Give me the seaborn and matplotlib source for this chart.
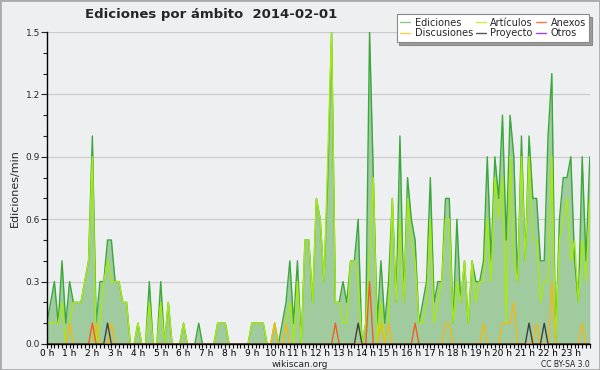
import numpy as np
import pandas as pd
import matplotlib
matplotlib.use("Agg")
import matplotlib.pyplot as plt
import seaborn as sns
from matplotlib.lines import Line2D
from matplotlib.ticker import MultipleLocator, FixedLocator

# Ediciones por minuto, un valor cada 10 minutos (6 por hora)
ediciones = [
    0.1, 0.2, 0.3, 0.1, 0.4, 0.1,   # 0 h
    0.3, 0.2, 0.2, 0.2, 0.3, 0.4,   # 1 h
    1.0, 0.1, 0.3, 0.3, 0.5, 0.5,   # 2 h
    0.3, 0.3, 0.2, 0.2, 0.0, 0.0,   # 3 h
    0.1, 0.0, 0.0, 0.3, 0.0, 0.0,   # 4 h
    0.3, 0.0, 0.2, 0.0, 0.0, 0.0,   # 5 h
    0.1, 0.0, 0.0, 0.0, 0.1, 0.0,   # 6 h
    0.0, 0.0, 0.0, 0.1, 0.1, 0.1,   # 7 h
    0.0, 0.0, 0.0, 0.0, 0.0, 0.0,   # 8 h
    0.1, 0.1, 0.1, 0.1, 0.0, 0.0,   # 9 h
    0.1, 0.0, 0.1, 0.2, 0.4, 0.1,   # 10 h
    0.4, 0.0, 0.5, 0.5, 0.2, 0.7,   # 11 h
    0.6, 0.3, 0.8, 1.5, 0.2, 0.2,   # 12 h
    0.3, 0.2, 0.4, 0.4, 0.6, 0.0,   # 13 h
    0.1, 1.5, 0.8, 0.1, 0.4, 0.1,   # 14 h
    0.3, 0.7, 0.2, 1.0, 0.2, 0.8,   # 15 h
    0.6, 0.5, 0.1, 0.2, 0.3, 0.8,   # 16 h
    0.2, 0.3, 0.3, 0.7, 0.7, 0.1,   # 17 h
    0.6, 0.2, 0.4, 0.1, 0.4, 0.3,   # 18 h
    0.3, 0.4, 0.9, 0.4, 0.9, 0.7,   # 19 h
    1.1, 0.5, 1.1, 0.9, 0.3, 1.0,   # 20 h
    0.4, 1.0, 0.7, 0.7, 0.4, 0.4,   # 21 h
    1.0, 1.3, 0.0, 0.6, 0.8, 0.8,   # 22 h
    0.9, 0.4, 0.2, 0.9, 0.4, 0.9,   # 23 h
]
articulos = [
    0.1, 0.1, 0.1, 0.1, 0.2, 0.0,
    0.1, 0.2, 0.2, 0.2, 0.3, 0.4,
    0.9, 0.0, 0.1, 0.3, 0.4, 0.3,
    0.3, 0.3, 0.2, 0.2, 0.0, 0.0,
    0.1, 0.0, 0.0, 0.2, 0.0, 0.0,
    0.2, 0.0, 0.2, 0.0, 0.0, 0.0,
    0.1, 0.0, 0.0, 0.0, 0.0, 0.0,
    0.0, 0.0, 0.0, 0.1, 0.1, 0.1,
    0.0, 0.0, 0.0, 0.0, 0.0, 0.0,
    0.1, 0.1, 0.1, 0.1, 0.0, 0.0,
    0.1, 0.0, 0.0, 0.1, 0.2, 0.0,
    0.3, 0.0, 0.5, 0.5, 0.2, 0.7,
    0.6, 0.3, 0.9, 1.5, 0.2, 0.2,
    0.1, 0.1, 0.4, 0.4, 0.3, 0.0,
    0.1, 0.4, 0.8, 0.0, 0.2, 0.0,
    0.1, 0.7, 0.2, 0.6, 0.2, 0.7,
    0.5, 0.4, 0.1, 0.1, 0.2, 0.6,
    0.1, 0.2, 0.3, 0.6, 0.6, 0.1,
    0.3, 0.2, 0.4, 0.1, 0.4, 0.2,
    0.3, 0.3, 0.6, 0.3, 0.8, 0.6,
    0.8, 0.1, 0.9, 0.4, 0.3, 0.9,
    0.4, 0.9, 0.5, 0.5, 0.2, 0.3,
    0.3, 0.9, 0.0, 0.5, 0.6, 0.7,
    0.4, 0.5, 0.2, 0.5, 0.3, 0.7,
]
# series pequeñas: {índice de 10 min: valor}
discusiones_pts = {6: 0.1, 13: 0.1, 17: 0.1, 60: 0.1, 63: 0.1, 88: 0.1, 90: 0.1,
                   105: 0.1, 106: 0.1, 115: 0.1, 120: 0.1, 121: 0.1, 122: 0.1,
                   123: 0.2, 129: 0.1, 133: 0.3, 141: 0.1}
anexos_pts = {12: 0.1, 76: 0.1, 85: 0.3, 97: 0.1}
proyecto_pts = {16: 0.1, 82: 0.1, 127: 0.1, 131: 0.1}

hour_labels = [f"{h} h" for h in range(24)]

n = len(ediciones)
horas = np.arange(n) / 6.0


def expand(pts):
    s = np.zeros(n)
    for k, v in pts.items():
        s[k] = v
    return s


df = pd.DataFrame({
    "hora": horas,
    "Ediciones": ediciones,
    "Artículos": articulos,
    "Discusiones": expand(discusiones_pts),
    "Anexos": expand(anexos_pts),
    "Proyecto": expand(proyecto_pts),
    "Otros": np.zeros(n),
})

sns.set_style("white")
plt.rcParams["font.family"] = ["DejaVu Sans"]

bg = "#eeeff0"
fig = plt.figure(figsize=(6.0, 3.7), dpi=100, facecolor=bg)
ax = fig.add_axes([0.078, 0.0703, 0.905, 0.8432])
ax.set_facecolor(bg)

ax.fill_between(df["hora"], df["Ediciones"], 0, color="#9fcb9f", lw=0, zorder=1)
line_colors = {
    "Ediciones": "#3aa83a",
    "Artículos": "#a6ea10",
    "Discusiones": "#f2b818",
    "Anexos": "#f0601c",
    "Proyecto": "#404040",
}
for col, c in line_colors.items():
    sns.lineplot(data=df, x="hora", y=col, ax=ax, color=c, lw=1.0, zorder=3)

ax.set_xlim(0, horas[-1])
ax.set_ylim(0, 1.5)
ax.yaxis.set_major_locator(FixedLocator([0.0, 0.3, 0.6, 0.9, 1.2, 1.5]))
ax.yaxis.set_minor_locator(MultipleLocator(0.1))
ax.set_yticklabels(["0.0", "0.3", "0.6", "0.9", "1.2", "1.5"])
ax.xaxis.set_major_locator(FixedLocator(np.arange(24)))
ax.xaxis.set_minor_locator(MultipleLocator(1 / 6))
ax.set_xticklabels(hour_labels)
ax.tick_params(axis="x", which="both", direction="out", length=3, width=0.8,
               labelsize=6.5, pad=0.5, colors="black", bottom=True)
ax.tick_params(axis="y", which="major", direction="out", length=4, width=0.8,
               labelsize=6.5, pad=1, left=True)
ax.tick_params(axis="y", which="minor", direction="out", length=3, width=0.8, left=True)
ax.grid(axis="y", which="major", color="#cccccc", lw=0.9, zorder=0)
ax.set_axisbelow(True)
for s in ["top", "right"]:
    ax.spines[s].set_visible(False)
for s in ["left", "bottom"]:
    ax.spines[s].set_color("black")
    ax.spines[s].set_linewidth(1.0)
    ax.spines[s].set_zorder(5)

ax.set_xlabel("")
ax.set_ylabel("Ediciones/min", fontsize=8, labelpad=4)

fig.text(0.142, 0.962, "Ediciones por ámbito  2014-02-01", fontsize=9.5,
         fontweight="bold", ha="left", va="center")
fig.text(0.50, 0.016, "wikiscan.org", fontsize=6.5, ha="center", va="center", color="#222222")
fig.text(0.983, 0.016, "CC BY-SA 3.0", fontsize=5.5, ha="right", va="center", color="#222222")

legend_colors = [("Ediciones", "#88cc88"), ("Discusiones", "#f5d040"),
                 ("Artículos", "#ccee44"), ("Proyecto", "#555555"),
                 ("Anexos", "#ff7744"), ("Otros", "#9944ee")]
handles = [Line2D([0], [0], color=c, lw=1.0) for _, c in legend_colors]
leg = fig.legend(handles, [t for t, _ in legend_colors], ncol=3,
                 loc="upper right", bbox_to_anchor=(0.99, 0.975),
                 fontsize=7, frameon=True, fancybox=False, shadow=True,
                 handlelength=1.0, handletextpad=0.5, columnspacing=0.3,
                 labelspacing=0.1, borderpad=0.35)
leg.get_frame().set_edgecolor("#888888")
leg.get_frame().set_linewidth(0.8)

fig.patches.append(plt.Rectangle((0, 0), 1, 1, transform=fig.transFigure,
                                 fill=False, edgecolor="#aaaaaa", lw=2))

fig.savefig("out.png", dpi=100, facecolor=bg)
